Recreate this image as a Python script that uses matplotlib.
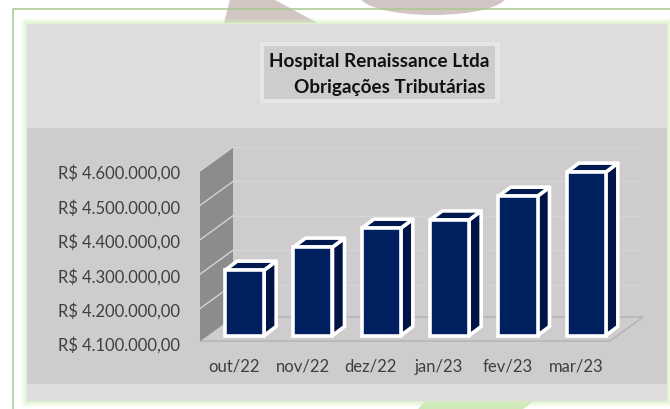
import matplotlib
matplotlib.use("Agg")
import matplotlib.pyplot as plt
from matplotlib.patches import Polygon, Rectangle, Ellipse

categories = ["out/22", "nov/22", "dez/22", "jan/23", "fev/23", "mar/23"]
values = [4290000, 4357000, 4412000, 4436000, 4505000, 4575000]
yticks = [4100000, 4200000, 4300000, 4400000, 4500000, 4600000]
ytick_labels = ["R$ 4.100.000,00", "R$ 4.200.000,00", "R$ 4.300.000,00",
                "R$ 4.400.000,00", "R$ 4.500.000,00", "R$ 4.600.000,00"]
title_lines = ["Hospital Renaissance Ltda", "Obrigações Tributárias"]

FONT = "Lato"
TXT = "#3f3f3f"
W, H = 670, 410
fig = plt.figure(figsize=(W / 100, H / 100), dpi=100, facecolor="white")

# ---- page decoration in pixel coordinates
bg = fig.add_axes([0, 0, 1, 1])
bg.set_xlim(0, W); bg.set_ylim(H, 0); bg.axis("off")
bg.add_patch(Polygon([(224, 24), (230, 0), (273, 0), (318, 24)], fc="#d2c6c3", ec="none"))
bg.add_patch(Ellipse((433, -3), 146, 38, fc="#d3c5c5", ec="none"))
bg.add_patch(Polygon([(427, 400), (537, 400), (523, 410), (418, 410)], fc="#cfe8b8", ec="none"))
bg.plot([13, 13, W], [H, 10, 10], color="#a8c98c", lw=1.1)
# soft green glow round the panel
for m, a in [(6, .10), (5, .12), (4, .16), (3, .22), (2, .30), (1, .35)]:
    bg.add_patch(Rectangle((27 - m, 25 - m), 640 + 2 * m, 377 + 2 * m, fc="#d9f2c4", ec="none",
                           alpha=a, zorder=1))
bg.add_patch(Rectangle((27, 25), 640, 377, fc="#dfdcdd", ec="none", zorder=2))
bg.add_patch(Rectangle((27, 129), 640, 256, fc="#cfcccd", ec="none", zorder=3))
bg.add_patch(Rectangle((260, 43), 240, 61, fc="#e7e5e5", ec="none", zorder=4))
bg.add_patch(Rectangle((264, 47), 231, 53, fc="#cfcccd", ec="none", zorder=5))
bg.text(379.5, 62, title_lines[0], ha="center", va="center", fontsize=13.6,
        fontweight="bold", family=FONT, color="#111111", zorder=6)
bg.text(389.5, 87, title_lines[1], ha="center", va="center", fontsize=13.6,
        fontweight="bold", family=FONT, color="#111111", zorder=6)

# ---- chart axes: front plane, 4.1M at y=344 px and 4.6M at y=172 px
ax = fig.add_axes([200 / W, 1 - 344 / H, 410 / W, 172 / H])
ax.patch.set_alpha(0)
ax.set_xlim(-0.5, 5.5)
ax.set_ylim(yticks[0], yticks[-1])
for s in ax.spines.values():
    s.set_visible(False)
ax.set_xticks(range(len(categories)), categories)
ax.set_yticks(yticks, ytick_labels)
ax.tick_params(axis="y", length=0, pad=14.2, labelsize=11.9, labelcolor=TXT)
ax.tick_params(axis="x", length=0, pad=10.5, labelsize=12, labelcolor=TXT)
for lb in ax.get_xticklabels() + ax.get_yticklabels():
    lb.set_family(FONT)

per_px_x = 6 / 410
per_px_y = (yticks[-1] - yticks[0]) / 172
wall_dx, wall_dy = 33 * per_px_x, 24 * per_px_y
x0, x1, y0, y1 = -0.5, 5.5, yticks[0], yticks[-1]
y0w = y0 + 2 * per_px_y

# floor
ax.add_patch(Polygon([(x0, y0w), (x1, y0w), (x1 + wall_dx, y0w + wall_dy), (x0 + wall_dx, y0w + wall_dy)],
                     fc="#cfcccd", ec="#b3b1b1", lw=1.0, clip_on=False, zorder=1))
# left wall
ax.add_patch(Polygon([(x0, y0w), (x0 + wall_dx, y0w + wall_dy), (x0 + wall_dx, y1 + wall_dy), (x0, y1)],
                     fc="#8d8b8c", ec="none", clip_on=False, zorder=2))
# gridlines on wall and back plane
for v in yticks[1:]:
    ax.plot([x0, x0 + wall_dx], [v, v + wall_dy], color="#d4d2d2", lw=1.0, clip_on=False, zorder=3)
    ax.plot([x0 + wall_dx, x1 + wall_dx], [v + wall_dy, v + wall_dy], color="#d6d4d4", lw=0.8,
            clip_on=False, zorder=1.5)

# 3-D bars, standing on a plane 7.5 px above the floor's front edge
bar_w = 39 * per_px_x
shift_x = 10.5 * per_px_x
lift = 7.5 * per_px_y
base = y0 + lift
bar_dx, bar_dy = 12 * per_px_x, 9 * per_px_y
WHITE = 2.6
tops = [v + lift for v in values]
for i, t in enumerate(tops):
    l, r = i + shift_x - bar_w / 2, i + shift_x + bar_w / 2
    ax.add_patch(Polygon([(r, base), (r + bar_dx, base + bar_dy), (r + bar_dx, t + bar_dy), (r, t)],
                         fc="#001446", ec="white", lw=WHITE, joinstyle="round", clip_on=False, zorder=5))
    ax.add_patch(Polygon([(l, t), (r, t), (r + bar_dx, t + bar_dy), (l + bar_dx, t + bar_dy)],
                         fc="#001a50", ec="white", lw=WHITE, joinstyle="round", clip_on=False, zorder=5))
ax.bar([i + shift_x for i in range(len(values))], [t - base for t in tops], bottom=base, width=bar_w,
       color="#002060", edgecolor="white", linewidth=WHITE, clip_on=False, zorder=6)

fig.savefig("out.png", dpi=100, facecolor="white")
